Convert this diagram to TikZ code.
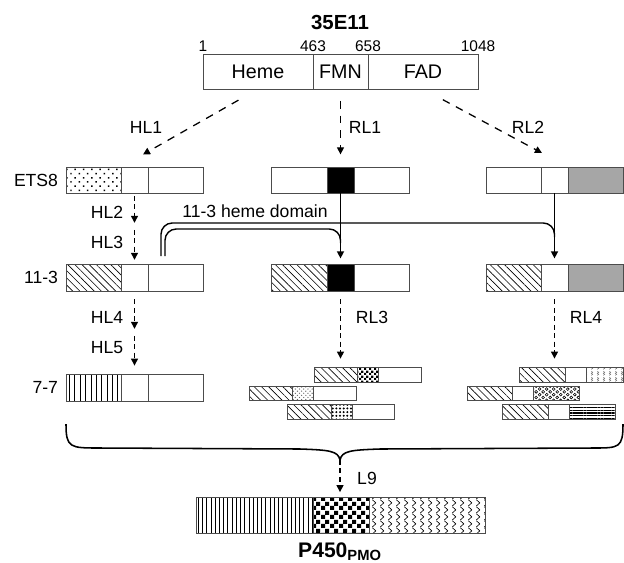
\documentclass[tikz,border=0pt]{standalone}
\usepackage{fontspec}
\setmainfont{Liberation Sans}
\usetikzlibrary{positioning,patterns,patterns.meta,arrows.meta}

% hand-made fills
\pgfdeclarepatternformonly{bigchecker}{\pgfpointorigin}{\pgfqpoint{6pt}{6pt}}{\pgfqpoint{6pt}{6pt}}{%
  \pgfpathrectangle{\pgfpointorigin}{\pgfqpoint{3pt}{3pt}}%
  \pgfpathrectangle{\pgfqpoint{3pt}{3pt}}{\pgfqpoint{3pt}{3pt}}%
  \pgfusepath{fill}}
\pgfdeclarepatternformonly{smallchecker}{\pgfpointorigin}{\pgfqpoint{3.6pt}{3.6pt}}{\pgfqpoint{3.6pt}{3.6pt}}{%
  \pgfpathrectangle{\pgfpointorigin}{\pgfqpoint{1.8pt}{1.8pt}}%
  \pgfpathrectangle{\pgfqpoint{1.8pt}{1.8pt}}{\pgfqpoint{1.8pt}{1.8pt}}%
  \pgfusepath{fill}}
\pgfdeclarepatternformonly{zigzags}{\pgfpointorigin}{\pgfqpoint{5.5pt}{5pt}}{\pgfqpoint{5.5pt}{5pt}}{%
  \pgfsetlinewidth{0.5pt}%
  \pgfpathmoveto{\pgfqpoint{1pt}{0pt}}%
  \pgfpathlineto{\pgfqpoint{3.5pt}{2.5pt}}%
  \pgfpathlineto{\pgfqpoint{1pt}{5pt}}%
  \pgfusepath{stroke}}
\pgfdeclarepatternformonly{rings}{\pgfqpoint{-0.5pt}{-0.5pt}}{\pgfqpoint{5.5pt}{4.5pt}}{\pgfqpoint{5pt}{4pt}}{%
  \pgfsetlinewidth{0.4pt}%
  \pgfpathcircle{\pgfqpoint{1.25pt}{1pt}}{1pt}%
  \pgfpathcircle{\pgfqpoint{3.75pt}{3pt}}{1pt}%
  \pgfusepath{stroke}}
\pgfdeclarepatternformonly{squiggles}{\pgfpointorigin}{\pgfqpoint{4pt}{4pt}}{\pgfqpoint{4pt}{4pt}}{%
  \pgfsetlinewidth{0.4pt}%
  \pgfpathmoveto{\pgfqpoint{1pt}{0.5pt}}%
  \pgfpathlineto{\pgfqpoint{2pt}{1.25pt}}%
  \pgfpathlineto{\pgfqpoint{1pt}{2pt}}%
  \pgfpathlineto{\pgfqpoint{2pt}{2.75pt}}%
  \pgfpathlineto{\pgfqpoint{1pt}{3.5pt}}%
  \pgfusepath{stroke}}

\begin{document}
\begin{tikzpicture}[x=0.025cm, y=-0.025cm,
  seg/.style 2 args={draw=black!70, line width=0.5pt, inner sep=0pt, outer sep=0pt,
    anchor=north west, minimum width=#1*0.025cm, minimum height=#2*0.025cm},
  lbl/.style={font=\fontsize{12.5}{14}\selectfont, inner sep=0pt},
  num/.style={font=\fontsize{11}{12}\selectfont, inner sep=0pt, anchor=south},
  big/.style={font=\fontsize{14.5}{16}\bfseries, inner sep=0pt},
  stipple/.style={pattern={Dots[distance=4.2pt, angle=45, radius=0.75pt]}},
  hatch/.style={pattern={Lines[angle=-45, distance=3.6pt, line width=0.45pt]}},
  vlines/.style={pattern={Lines[angle=90, distance=#1, line width=0.45pt]}},
  hlines/.style={pattern={Lines[angle=0, distance=2pt, line width=0.85pt]}},
  farrow/.style={dash pattern=on 5.5pt off 5pt, line width=0.9pt, -{Triangle[length=5pt, width=5pt]}},
  darrow/.style={dash pattern=on 3.5pt off 2.5pt, line width=0.9pt, -{Triangle[length=5pt, width=5pt]}},
  sarrow/.style={line width=1pt, -{Triangle[length=5pt, width=5pt]}},
  swapline/.style={line width=1pt, rounded corners=8pt},
  brace/.style={line width=1.1pt}]
\useasboundingbox (0,0) rectangle (624,562);

% parent gene
\node[big] (parent) at (340,22) {35E11};
\node[seg={110}{35}, font=\fontsize{14}{16}\selectfont] (heme) at (203,54) {Heme};
\node[seg={55}{35}, font=\fontsize{14}{16}\selectfont] (fmn) at (313,54) {FMN};
\node[seg={110}{35}, font=\fontsize{14}{16}\selectfont] (fad) at (368,54) {FAD};
\node[num] (p1) at (203,52) {1};
\node[num] (p463) at (313,52) {463};
\node[num] (p658) at (368,52) {658};
\node[num] (p1048) at (478,52) {1048};

% first libraries
\node[seg={55}{26}, stipple] (e1) at (66,167) {};
\node[seg={27}{26}] (e2) at (121,167) {};
\node[seg={55}{26}] (e3) at (148,167) {};
\node[lbl, left=5.5pt of e1] (ets8) {ETS8};

\node[seg={56}{26}] (r1a) at (271,167) {};
\node[seg={27}{26}, fill=black] (r1b) at (327,167) {};
\node[seg={55}{26}] (r1c) at (354,167) {};

\node[seg={55}{26}] (r2a) at (486,167) {};
\node[seg={27}{26}] (r2b) at (541,167) {};
\node[seg={55}{26}, fill=black!35] (r2c) at (568,167) {};

% 11-3 row
\node[seg={55}{27}, hatch] (h1) at (66,264) {};
\node[seg={27}{27}] (h2) at (121,264) {};
\node[seg={55}{27}] (h3) at (148,264) {};
\node[lbl, left=5.5pt of h1] (n113) {11-3};

\node[seg={56}{27}, hatch] (m1) at (271,264) {};
\node[seg={27}{27}, fill=black] (m2) at (327,264) {};
\node[seg={55}{27}] (m3) at (354,264) {};

\node[seg={55}{27}, hatch] (k1) at (486,264) {};
\node[seg={27}{27}] (k2) at (541,264) {};
\node[seg={55}{27}, fill=black!35] (k3) at (568,264) {};

% 7-7 row
\node[seg={55}{27}, vlines=3.8pt] (v1) at (66,374) {};
\node[seg={27}{27}] (v2) at (121,374) {};
\node[seg={55}{27}] (v3) at (148,374) {};
\node[lbl, left=5.5pt of v1] (n77) {7-7};

% RL3 chimeras
\node[seg={43}{15}, hatch] (ma1) at (314,367) {};
\node[seg={21}{15}, pattern=smallchecker] (ma2) at (357,367) {};
\node[seg={43}{15}] (ma3) at (378,367) {};
\node[seg={43}{14}, hatch] (mb1) at (249,386) {};
\node[seg={21}{14}, pattern=crosshatch dots, pattern color=black!60] (mb2) at (292,386) {};
\node[seg={43}{14}] (mb3) at (313,386) {};
\node[seg={44}{15}, hatch] (mc1) at (287,404) {};
\node[seg={21}{15}, pattern={Dots[distance=2.6pt, radius=0.8pt]}] (mc2) at (331,404) {};
\node[seg={42}{15}] (mc3) at (352,404) {};

% RL4 chimeras
\node[seg={46}{15}, hatch] (ra1) at (519,367) {};
\node[seg={21}{15}] (ra2) at (565,367) {};
\node[seg={37}{15}, pattern=squiggles, pattern color=black!55] (ra3) at (586,367) {};
\node[seg={45}{14}, hatch] (rb1) at (467,386) {};
\node[seg={21}{14}] (rb2) at (512,386) {};
\node[seg={46}{14}, pattern=rings] (rb3) at (533,386) {};
\node[seg={46}{15}, hatch] (rc1) at (502,404) {};
\node[seg={21}{15}] (rc2) at (548,404) {};
\node[seg={46}{15}, hlines] (rc3) at (569,404) {};

% final enzyme
\node[seg={117}{36}, vlines=3pt] (f1) at (196,497) {};
\node[seg={56}{36}, pattern=bigchecker] (f2) at (313,497) {};
\node[seg={116}{36}, pattern=zigzags] (f3) at (369,497) {};
\node[big, font=\fontsize{15}{17}\bfseries] (pmo) at (340,552) {P450\textsubscript{PMO}};

% library steps
\draw[farrow, shorten <=16pt, shorten >=18pt] (heme.south) -- (e2.north west);
\draw[farrow, shorten <=8.5pt, shorten >=9pt] (fmn.south) -- (r1b.north);
\draw[farrow, shorten <=16pt, shorten >=21pt] (fad.south) -- (r2b.north east);
\node[lbl] (hl1) at (146,127) {HL1};
\node[lbl] (rl1) at (365,127) {RL1};
\node[lbl] (rl2) at (528,127) {RL2};

\coordinate (hl23) at (e2.south |- 0,227);
\draw[darrow, shorten <=2pt, shorten >=3pt] (e2.south) -- (hl23);
\draw[darrow, shorten <=2pt, shorten >=3pt] (hl23) -- (h2.north);
\node[lbl] (hl2) at (107,212) {HL2};
\node[lbl] (hl3) at (107,242) {HL3};

\coordinate (hl45) at (h2.south |- 0,333);
\draw[darrow, shorten <=6pt, shorten >=3pt] (h2.south) -- (hl45);
\draw[darrow, shorten <=2pt, shorten >=6pt] (hl45) -- (v2.north);
\node[lbl] (hl4) at (107,317) {HL4};
\node[lbl] (hl5) at (107,348) {HL5};

% heme domain swap
\draw[sarrow, shorten >=4pt] (r1b.south) -- (m2.north);
\draw[sarrow, shorten >=4pt] (r2b.south) -- (k2.north);
\coordinate (hdo) at (161,256);
\coordinate (hdi) at (165,256);
\coordinate (jm) at (r1b.south |- 0,243);
\coordinate (jr) at (r2b.south |- 0,237);
\draw[swapline] (hdo) |- (jr |- 0,223) -- (jr);
\draw[swapline] (hdi) |- (jm |- 0,229) -- (jm);
\node[lbl] (hd) at (255,211) {11-3 heme domain};

\draw[darrow, shorten <=6pt, shorten >=6pt] (m2.south) -- (ma2.north -| m2.south);
\draw[darrow, shorten <=6pt, shorten >=6pt] (k2.south) -- (ra1.north -| k2.south);
\node[lbl] (rl3) at (372,317) {RL3};
\node[lbl] (rl4) at (586,317) {RL4};

% recombination
\coordinate (bl) at (66,424);
\coordinate (br) at (623,424);
\coordinate (btip) at (340,460);
\draw[brace] (bl) .. controls (66,448) and (70,448) .. (100,448) -- (300,449)
  .. controls (330,450) and (338,451) .. (btip)
  .. controls (342,451) and (350,450) .. (380,449) -- (593,448)
  .. controls (619,448) and (623,448) .. (br);
\draw[darrow, shorten >=3.5pt] (btip) -- (btip |- f2.north);
\node[lbl] (l9) at (367,478) {L9};
\end{tikzpicture}
\end{document}
